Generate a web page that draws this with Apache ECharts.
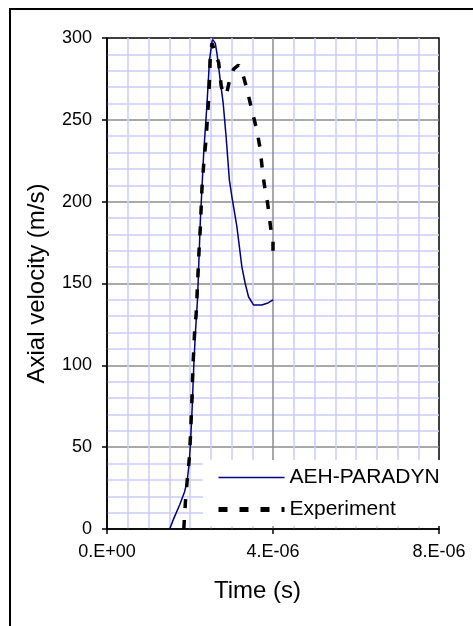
<!DOCTYPE html>
<html>
<head>
<meta charset="utf-8">
<script src="https://cdn.jsdelivr.net/npm/echarts@6/dist/echarts.min.js"></script>
<style>
  html, body { margin: 0; padding: 0; background: #fff; }
  #chart { width: 473px; height: 626px; }
</style>
</head>
<body>
<div id="chart"></div>
<script>
// ---- data (time in seconds, velocity in m/s) ----
const seriesNames = ['AEH-PARADYN', 'Experiment'];

const paradynTime = [1.51e-6, 1.61e-6, 1.75e-6, 1.87e-6, 1.93e-6, 1.98e-6, 2.01e-6, 2.05e-6, 2.09e-6, 2.13e-6,
  2.18e-6, 2.25e-6, 2.33e-6, 2.41e-6, 2.47e-6, 2.53e-6, 2.55e-6, 2.61e-6, 2.65e-6, 2.73e-6,
  2.80e-6, 2.87e-6, 2.95e-6, 3.01e-6, 3.13e-6, 3.25e-6, 3.33e-6, 3.41e-6, 3.53e-6, 3.73e-6,
  3.86e-6, 4.00e-6];
const paradynVel = [0, 6.5, 14.7, 22.8, 29, 40, 52, 72.7, 99, 119.7,
  140, 188.8, 229.6, 260, 286.5, 297.7, 299, 296.7, 290.5, 274,
  260, 239.7, 213, 203, 184.7, 160.2, 150, 141.9, 136.9, 136.9,
  137.9, 140];

const expTime = [1.85e-6, 1.89e-6, 1.93e-6, 1.98e-6, 2.01e-6, 2.05e-6, 2.07e-6, 2.11e-6, 2.15e-6, 2.22e-6,
  2.25e-6, 2.29e-6, 2.33e-6, 2.39e-6, 2.42e-6, 2.45e-6, 2.47e-6, 2.49e-6, 2.53e-6, 2.56e-6,
  2.69e-6, 2.75e-6, 2.81e-6, 2.89e-6, 2.97e-6, 3.05e-6, 3.17e-6, 3.25e-6, 3.37e-6, 3.49e-6,
  3.61e-6, 3.69e-6, 3.75e-6, 3.81e-6, 3.87e-6, 3.91e-6, 3.97e-6, 4.00e-6, 4.00e-6, 4.08e-6];
const expVel = [0, 16.7, 29, 42, 56, 81, 99, 119.7, 132, 171,
  184.7, 209, 223, 238.8, 251, 263, 275, 289.6, 296.8, 297,
  285, 271, 265, 267, 276, 281, 283.5, 280, 269, 256,
  243.7, 232.5, 218, 207, 199, 191, 178.7, 175.6, 166.4, 166.4];

const xTicks = ['0.E+00', '4.E-06', '8.E-06'];
const yTicks = [0, 50, 100, 150, 200, 250, 300];

const xTitle = 'Time (s)';
const yTitle = 'Axial velocity (m/s)';

// ---- chart ----
const FONT = '"Liberation Sans", Arial, sans-serif';
const zip = (a, b) => a.map((v, i) => [v, b[i]]);

const chart = echarts.init(document.getElementById('chart'), null, { renderer: 'canvas' });

const hiddenSymbol = { color: 'rgba(0,0,0,0)', borderWidth: 0, borderColor: 'rgba(0,0,0,0)', opacity: 0 };

chart.setOption({
  animation: false,
  backgroundColor: '#fff',
  graphic: [{
    type: 'rect',
    shape: { x: 10, y: 9, width: 480, height: 640 },
    style: { fill: 'none', stroke: '#000', lineWidth: 2 },
    silent: true
  }],
  grid: {
    left: 107, top: 38, width: 332, height: 491,
    show: true, backgroundColor: '#fff', borderColor: '#000', borderWidth: 1.5,
    containLabel: false
  },
  legend: {
    orient: 'vertical',
    left: 203, top: 460,
    backgroundColor: '#fff',
    padding: [7, 8, 6, 13],
    itemWidth: 66, itemHeight: 20, itemGap: 11,
    textStyle: { fontSize: 21, fontFamily: FONT, color: '#000' },
    data: [
      { name: seriesNames[0], itemStyle: hiddenSymbol, lineStyle: { width: 1.5, color: '#000080', type: 'solid' } },
      { name: seriesNames[1], itemStyle: hiddenSymbol, lineStyle: { width: 5, color: '#000', type: [9, 12] } }
    ]
  },
  xAxis: {
    type: 'value',
    min: 0, max: 8e-6, interval: 4e-6,
    name: xTitle, nameLocation: 'middle', nameGap: 50,
    nameTextStyle: { fontSize: 24, fontFamily: FONT, color: '#000', padding: [0, 31, 0, 0] },
    axisLine: { show: true, onZero: false, lineStyle: { color: '#000', width: 1.5 } },
    axisTick: { show: true, inside: false, length: 5, lineStyle: { color: '#000', width: 1.5 } },
    axisLabel: {
      margin: 14, fontSize: 18, fontFamily: FONT, color: '#000',
      formatter: function (v) {
        const idx = Math.round(v / 4e-6);
        return xTicks[idx] !== undefined ? xTicks[idx] : '';
      }
    },
    splitLine: { show: true, showMinLine: false, showMaxLine: false, lineStyle: { color: '#8c8c8c', width: 1.5 } },
    minorTick: { show: false, splitNumber: 8 },
    minorSplitLine: { show: true, lineStyle: { color: '#ccccff', width: 1.5 } }
  },
  yAxis: {
    type: 'value',
    min: yTicks[0], max: yTicks[yTicks.length - 1], interval: 50,
    name: yTitle, nameLocation: 'middle', nameGap: 58,
    nameTextStyle: { fontSize: 24, fontFamily: FONT, color: '#000' },
    axisLine: { show: true, onZero: false, lineStyle: { color: '#000', width: 1.5 } },
    axisTick: { show: true, inside: false, length: 5, lineStyle: { color: '#000', width: 1.5 } },
    axisLabel: { margin: 15, fontSize: 18, fontFamily: FONT, color: '#000' },
    splitLine: { show: true, showMinLine: false, showMaxLine: false, lineStyle: { color: '#8c8c8c', width: 1.5 } },
    minorTick: { show: false, splitNumber: 5 },
    minorSplitLine: { show: true, lineStyle: { color: '#ccccff', width: 1.5 } }
  },
  series: [
    {
      name: seriesNames[0], type: 'line',
      data: zip(paradynTime, paradynVel),
      symbol: 'none', showSymbol: false, smooth: false,
      lineStyle: { color: '#000080', width: 1.5 },
      itemStyle: { color: '#000080' },
      z: 3
    },
    {
      name: seriesNames[1], type: 'line',
      data: zip(expTime, expVel),
      symbol: 'none', showSymbol: false, smooth: false,
      lineStyle: { color: '#000', width: 3.5, type: [9, 12], cap: 'butt' },
      itemStyle: { color: '#000' },
      z: 4
    }
  ]
});
</script>
</body>
</html>
